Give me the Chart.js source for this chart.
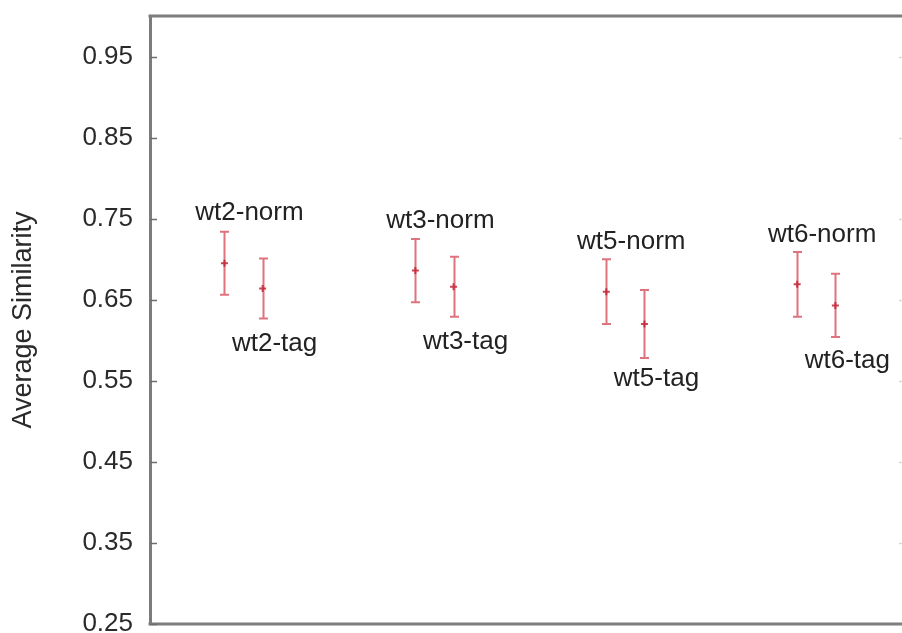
<!DOCTYPE html>
<html>
<head>
<meta charset="utf-8">
<script src="https://cdn.jsdelivr.net/npm/chart.js@4/dist/chart.umd.min.js"></script>
<style>
  html, body { margin: 0; padding: 0; background: #fff; overflow: hidden; }
  #wrap { width: 902px; height: 633px; overflow: hidden; position: relative; }
  #box { position: absolute; left: 0; top: -40px; width: 912px; height: 720px; }
</style>
</head>
<body>
<div id="wrap"><div id="box"><canvas id="c" width="912" height="720"></canvas></div></div>
<script>
// Runs: each weighting scheme measured in a "norm" and a "tag" variant
const runLabels = ['wt2-norm', 'wt2-tag', 'wt3-norm', 'wt3-tag', 'wt5-norm', 'wt5-tag', 'wt6-norm', 'wt6-tag'];
const runVariant = ['norm', 'tag', 'norm', 'tag', 'norm', 'tag', 'norm', 'tag'];
const runX = [1, 1.2, 2, 2.2, 3, 3.2, 4, 4.2];
const meanSimilarity = [0.695, 0.664, 0.686, 0.666, 0.660, 0.620, 0.669, 0.643];
const errSimilarity = [0.039, 0.037, 0.039, 0.037, 0.040, 0.042, 0.040, 0.039];
const yTickValues = [0.25, 0.35, 0.45, 0.55, 0.65, 0.75, 0.85, 0.95];

const FONT = '"Liberation Sans", Arial, Helvetica, sans-serif';
const BAR_COLOR = 'rgba(210, 55, 70, 0.7)';
const FRAME_COLOR = '#7c7c7c';

Chart.defaults.font.family = FONT;

// Error bars, frame lines, inward ticks and run labels
const decorations = {
  id: 'decorations',
  beforeDatasetsDraw(chart) {
    const { ctx, chartArea, scales: { x, y } } = chart;
    ctx.save();
    // top and bottom frame lines
    ctx.strokeStyle = FRAME_COLOR;
    ctx.lineWidth = 3;
    ctx.beginPath();
    ctx.moveTo(chartArea.left - 1.5, chartArea.top);
    ctx.lineTo(chartArea.right, chartArea.top);
    ctx.moveTo(chartArea.left - 1.5, chartArea.bottom);
    ctx.lineTo(chartArea.right, chartArea.bottom);
    ctx.stroke();
    // inward tick marks on the left axis, faint mirrored ones on the right
    yTickValues.forEach(v => {
      const py = Math.round(y.getPixelForValue(v)) + 0.5;
      ctx.strokeStyle = '#6e6e6e';
      ctx.lineWidth = 1.5;
      ctx.beginPath();
      ctx.moveTo(chartArea.left, py);
      ctx.lineTo(chartArea.left + 7, py);
      ctx.stroke();
      ctx.strokeStyle = 'rgba(150,150,150,0.35)';
      ctx.beginPath();
      ctx.moveTo(chartArea.right - 7, py);
      ctx.lineTo(chartArea.right, py);
      ctx.stroke();
    });
    // error bars
    ctx.strokeStyle = BAR_COLOR;
    ctx.lineWidth = 2;
    runX.forEach((xv, i) => {
      const px = Math.round(x.getPixelForValue(xv)) + 0.5;
      const top = y.getPixelForValue(meanSimilarity[i] + errSimilarity[i]);
      const bot = y.getPixelForValue(meanSimilarity[i] - errSimilarity[i]);
      ctx.beginPath();
      ctx.moveTo(px, top);
      ctx.lineTo(px, bot);
      ctx.moveTo(px - 4.5, top);
      ctx.lineTo(px + 4.5, top);
      ctx.moveTo(px - 4.5, bot);
      ctx.lineTo(px + 4.5, bot);
      ctx.stroke();
    });
    ctx.restore();
  },
  afterDatasetsDraw(chart) {
    const { ctx, scales: { x, y } } = chart;
    ctx.save();
    ctx.font = '26px ' + FONT;
    ctx.fillStyle = '#222';
    ctx.textAlign = 'center';
    ctx.textBaseline = 'middle';
    runLabels.forEach((lab, i) => {
      const px = x.getPixelForValue(runX[i]);
      const py = y.getPixelForValue(meanSimilarity[i]);
      if (runVariant[i] === 'norm') {
        ctx.fillText(lab, px + 25, py - 50);
      } else {
        ctx.fillText(lab, px + 12, py + 55);
      }
    });
    ctx.restore();
  }
};

new Chart(document.getElementById('c'), {
  type: 'scatter',
  data: {
    datasets: [{
      data: runX.map((xv, i) => ({ x: xv, y: meanSimilarity[i] })),
      pointStyle: 'cross',
      pointRadius: 3.5,
      pointBorderWidth: 2,
      borderColor: 'rgba(195, 35, 50, 0.85)',
      backgroundColor: 'rgba(195, 35, 50, 0.85)'
    }]
  },
  options: {
    responsive: false,
    animation: false,
    layout: { padding: { top: 56, bottom: 56, left: 0, right: 6 } },
    plugins: { legend: { display: false }, tooltip: { enabled: false } },
    scales: {
      x: { type: 'linear', min: 0.61, max: 4.57, display: false },
      y: {
        type: 'linear',
        min: 0.25,
        max: 1.0,
        afterBuildTicks: s => { s.ticks = yTickValues.map(v => ({ value: v })); },
        afterFit: s => { s.width = 150; },
        ticks: {
          padding: 17,
          color: '#2a2a2a',
          font: { size: 26, family: FONT },
          callback: v => Number(v).toFixed(2)
        },
        grid: { display: false, drawTicks: false },
        border: { display: true, color: FRAME_COLOR, width: 3 },
        title: {
          display: true,
          text: 'Average Similarity',
          color: '#2a2a2a',
          font: { size: 27, family: FONT },
          padding: { top: 7, bottom: 0 }
        }
      }
    }
  },
  plugins: [decorations]
});
</script>
</body>
</html>
